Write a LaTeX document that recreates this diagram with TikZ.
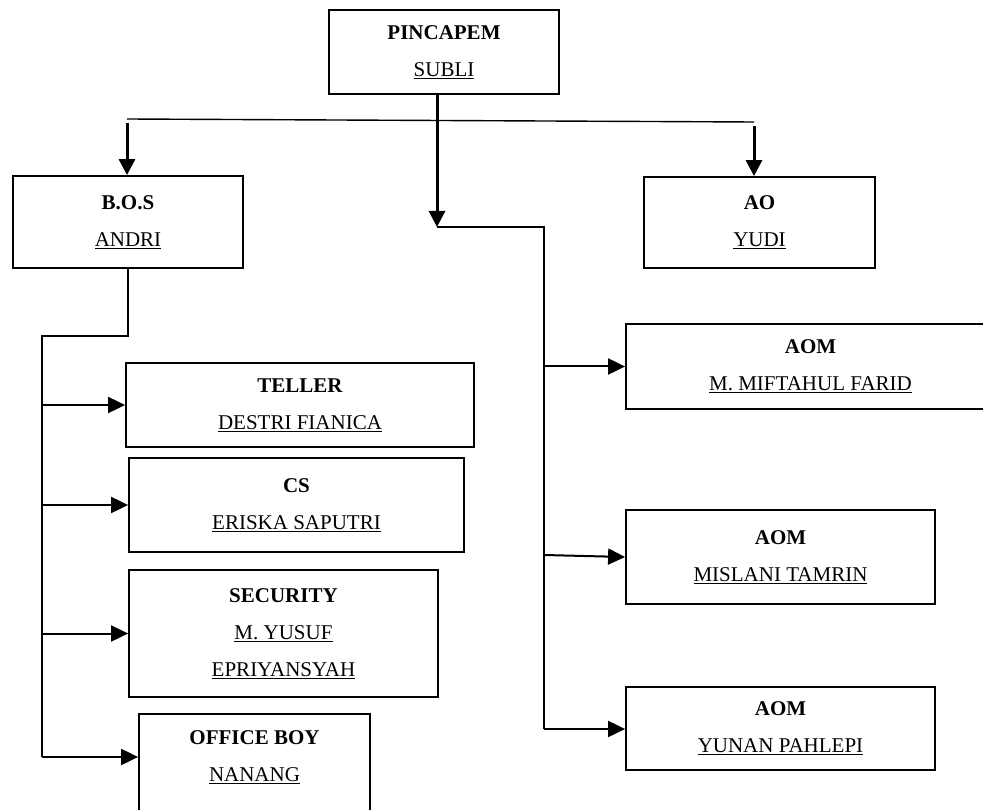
\documentclass[tikz,border=0pt]{standalone}
\usepackage{fontspec}
\setmainfont{Liberation Serif}
\usetikzlibrary{positioning}
\usetikzlibrary{arrows.meta}
\tikzset{x=1pt, y=-1pt,
    unit/.style={ % Sets the properties for each box
    draw, line width=1.8pt, inner sep=0pt, align=center,
    font=\fontsize{21}{37}\selectfont},
    link/.style={draw, line width=2pt},
    bar/.style={draw, line width=1.4pt},
    arrow/.style={link, -{Triangle[length=17pt,width=16pt]}},
    mainarrow/.style={draw, line width=3pt, -{Triangle[length=16pt,width=16pt]}}}
\begin{document}
\begin{tikzpicture}
        \clip (0,0) rectangle (983,810);

        % Head
        \node[unit, minimum width=230pt, minimum height=84pt] (pincapem) at (444,52)
            {\textbf{PINCAPEM}\\\underline{SUBLI}};

        % Second level
        \node[unit, minimum width=230pt, minimum height=92pt] (bos) at (128,222)
            {\textbf{B.O.S}\\\underline{ANDRI}};
        \node[unit, minimum width=231pt, minimum height=91pt] (ao) at (759.5,222.5)
            {\textbf{AO}\\\underline{YUDI}};

        % Staff under B.O.S
        \node[unit, minimum width=348pt, minimum height=84pt] (teller) at (300,405)
            {\textbf{TELLER}\\\underline{DESTRI FIANICA}};
        \node[unit, minimum width=335pt, minimum height=94pt] (cs) at (296.5,505)
            {\textbf{CS}\\\underline{ERISKA SAPUTRI}};
        \node[unit, minimum width=309pt, minimum height=127pt] (security) at (283.5,633.5)
            {\textbf{SECURITY}\\\underline{M. YUSUF}\\\underline{EPRIYANSYAH}};
        \node[unit, minimum width=231pt, minimum height=122pt] (officeboy) at (254.5,775)
            {\textbf{OFFICE BOY}\\\underline{NANANG}\\\phantom{X}};

        % AOM boxes
        \node[unit, minimum width=369pt, minimum height=85pt] (aom1) at (810.5,366.5)
            {\textbf{AOM}\\\underline{M. MIFTAHUL FARID}};
        \node[unit, minimum width=309pt, minimum height=94pt] (aom2) at (780.5,557)
            {\textbf{AOM}\\\underline{MISLANI TAMRIN}};
        \node[unit, minimum width=309pt, minimum height=83pt] (aom3) at (780.5,728.5)
            {\textbf{AOM}\\\underline{YUNAN PAHLEPI}};

        % Bend points
        \coordinate (drop) at (437,227);
        \coordinate (topbarL) at (127,119);
        \coordinate (topbarR) at (754,122);
        \coordinate (aombus) at (544,227);
        \coordinate (aombusend) at (544,729);
        \coordinate (stafbus) at (42,336);
        \coordinate (stafbusend) at (42,757);

        % Lines from the head
        \draw[mainarrow] (pincapem.south -| drop) -- (drop);
        \draw[bar] (topbarL) -- (topbarR);
        \draw[mainarrow] ([yshift=-4pt]topbarL) -- (topbarL |- bos.north);
        \draw[mainarrow] ([yshift=-4pt]topbarR) -- (topbarR |- ao.north);

        % AOM bus
        \draw[link] (drop) -- (aombus) -- (aombusend);
        \draw[arrow] (aombus |- aom1.west) -- (aom1.west);
        \draw[arrow] ([yshift=2pt]aombus |- aom2.west) -- (aom2.west);
        \draw[arrow] (aombusend) -- (aombusend -| aom3.west);

        % Staff bus
        \draw[link] (bos.south) |- (stafbus) -- (stafbusend);
        \draw[arrow] (stafbus |- teller.west) -- (teller.west);
        \draw[arrow] (stafbus |- cs.west) -- (cs.west);
        \draw[arrow] (stafbus |- security.west) -- (security.west);
        \draw[arrow] (stafbusend) -- (stafbusend -| officeboy.west);

    \end{tikzpicture}
\end{document}
